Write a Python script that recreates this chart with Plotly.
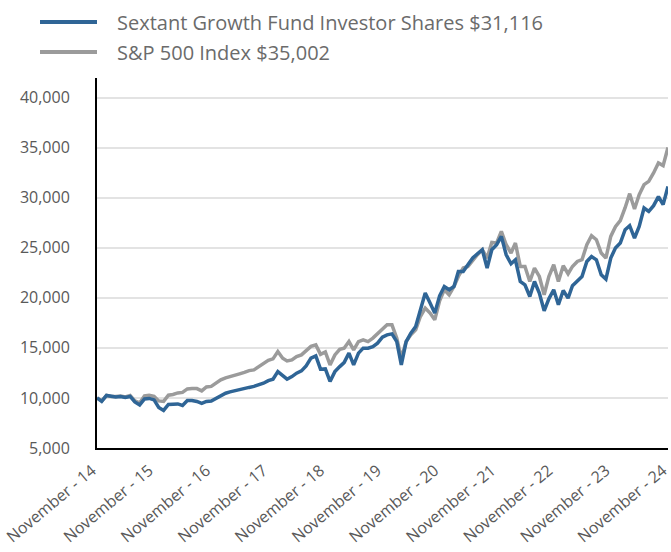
import pandas as pd
import plotly.graph_objects as go

# ---- data ----
start_month = "2014-11-01"
n_months = 121
fund_name = "Sextant Growth Fund Investor Shares $31,116"
index_name = "S&P 500 Index $35,002"

fund_values = [
    10000, 9650, 10250, 10150, 10100, 10150, 10050, 10150, 9600, 9300,
    9900, 9950, 9800, 9050, 8750, 9350, 9350, 9400, 9250, 9750,
    9750, 9650, 9450, 9650, 9700, 9950, 10200, 10470, 10600, 10730,
    10850, 10950, 11050, 11150, 11300, 11470, 11730, 11870, 12630, 12200,
    11870, 12130, 12470, 12700, 13200, 13970, 14200, 12870, 12900, 11650,
    12630, 13130, 13530, 14470, 13300, 14470, 14970, 14970, 15130, 15470,
    16070, 16300, 16400, 15630, 13300, 15630, 16470, 17130, 18630, 20470,
    19470, 18470, 20200, 21130, 20800, 21130, 22630, 22630, 23300, 23970,
    24400, 24800, 22970, 24800, 25300, 26130, 24300, 23400, 23800, 21630,
    21300, 20130, 21630, 20470, 18700, 19900, 20800, 19300, 20730, 19970,
    21200, 21630, 22130, 23630, 24130, 23800, 22300, 21870, 23970, 24970,
    25470, 26800, 27200, 25970, 27130, 28970, 28630, 29200, 30100, 29300,
    31116,
]

index_values = [
    10000, 9700, 10250, 10150, 10150, 10200, 10100, 10250, 9700, 9500,
    10200, 10270, 10150, 9700, 9650, 10270, 10350, 10500, 10550, 10900,
    10930, 10930, 10700, 11100, 11150, 11450, 11800, 12000, 12100, 12250,
    12400, 12550, 12730, 12800, 13100, 13400, 13750, 13900, 14630, 13970,
    13700, 13800, 14130, 14300, 14750, 15150, 15300, 14350, 14600, 13300,
    14300, 14850, 14970, 15630, 14800, 15630, 15800, 15630, 15970, 16400,
    16900, 17300, 17300, 15970, 13970, 15630, 16300, 16800, 18130, 18970,
    18470, 17800, 19700, 20800, 20300, 21130, 22130, 22970, 23130, 23800,
    24300, 24800, 23970, 25530, 25470, 26630, 25300, 24470, 25470, 23130,
    23130, 21630, 22970, 22130, 20300, 22130, 23300, 21630, 23200, 22400,
    23130, 23630, 23800, 25300, 26200, 25800, 24470, 23970, 26130, 27100,
    27700, 29000, 30400, 28870, 30300, 31300, 31630, 32470, 33470, 33200,
    35002,
]

tick_years = ["14", "15", "16", "17", "18", "19", "20", "21", "22", "23", "24"]
y_ticks = [5000, 10000, 15000, 20000, 25000, 30000, 35000, 40000]

# ---- figure ----
months = pd.date_range(start_month, periods=n_months, freq="MS")
tick_dates = [pd.Timestamp(f"20{y}-11-01") for y in tick_years]
tick_text = [f"November - {y}" for y in tick_years]

BLUE = "#2F6596"
GRAY = "#9B9B9B"
FONT = "Open Sans"

fig = go.Figure()
fig.add_trace(go.Scatter(x=months, y=index_values, mode="lines", name=index_name,
                         line=dict(color=GRAY, width=3.5), showlegend=False))
fig.add_trace(go.Scatter(x=months, y=fund_values, mode="lines", name=fund_name,
                         line=dict(color=BLUE, width=3.5), showlegend=False))

# legend drawn as shapes + text
plot_left, plot_w = 97, 571
plot_bottom, plot_h = 448.5, 370.5
def px_x(p):
    return (p - plot_left) / plot_w
def px_y(p):
    return (plot_bottom - p) / plot_h

for name, color, ypix in [(fund_name, BLUE, 22), (index_name, GRAY, 52)]:
    fig.add_shape(type="line", xref="paper", yref="paper",
                  x0=px_x(40), x1=px_x(97), y0=px_y(ypix), y1=px_y(ypix),
                  line=dict(color=color, width=4))
    fig.add_annotation(xref="paper", yref="paper", x=px_x(115), y=px_y(ypix),
                       text=name, showarrow=False, xanchor="left", yanchor="middle",
                       font=dict(family=FONT, size=20, color="#6B6B6B"))

fig.update_layout(
    width=671, height=552,
    margin=dict(l=97, r=3, t=78, b=104, autoexpand=False),
    paper_bgcolor="white", plot_bgcolor="white",
    font=dict(family=FONT, color="#595959"),
)
fig.update_xaxes(
    range=[months[0], months[-1] + pd.Timedelta(hours=6)],
    tickmode="array", tickvals=tick_dates, ticktext=tick_text,
    tickangle=-40, tickfont=dict(size=16, color="#595959"),
    ticklabeloverflow="allow", ticklabelshift=-5, ticklabelstandoff=5,
    showgrid=False, showline=True, linecolor="black", linewidth=2,
    ticks="", zeroline=False, automargin=False,
)
fig.update_yaxes(
    range=[5000, 41950],
    tickmode="array", tickvals=y_ticks, tickformat=",",
    tickfont=dict(size=16, color="#595959"),
    showgrid=True, gridcolor="#E3E3E3", gridwidth=2,
    showline=True, linecolor="black", linewidth=2,
    ticks="", ticklabelstandoff=22, zeroline=False, automargin=False,
)

fig.write_html(
    "out.html",
    config={"displayModeBar": False},
    post_script="document.body.style.margin='0';document.body.style.padding='0';",
)
